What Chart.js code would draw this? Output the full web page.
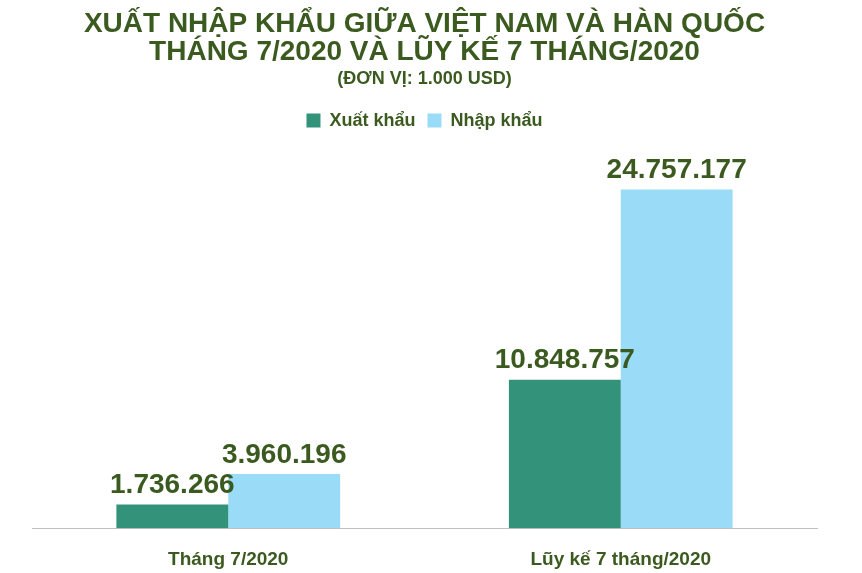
<!DOCTYPE html>
<html><head><meta charset="utf-8">
<script src="https://cdn.jsdelivr.net/npm/chart.js@4"></script>
<style>html,body{margin:0;background:#fff}#w{width:862px;height:573px}</style>
</head><body><div id="w"><canvas id="c"></canvas></div>
<script>
const categories = ["Tháng 7/2020", "Lũy kế 7 tháng/2020"];
const exportValues = [1736266, 10848757];
const importValues = [3960196, 24757177];
const seriesNames = ["Xuất khẩu", "Nhập khẩu"];
const green = "#3b5a1f";
const fmt = v => v.toString().replace(/\B(?=(\d{3})+(?!\d))/g, ".");
const labels = {
  id: "labels",
  afterDatasetsDraw(chart) {
    const ctx = chart.ctx;
    ctx.save();
    ctx.font = "bold 28px 'Liberation Sans', sans-serif";
    ctx.fillStyle = green;
    ctx.textAlign = "center";
    ctx.textBaseline = "bottom";
    chart.data.datasets.forEach((ds, i) => {
      chart.getDatasetMeta(i).data.forEach((b, j) => {
        ctx.fillText(fmt(ds.data[j]), b.x, b.y - 5);
      });
    });
    ctx.restore();
  }
};
new Chart(document.getElementById("c"), {
  type: "bar",
  data: {
    labels: categories,
    datasets: [
      { label: seriesNames[0], data: exportValues, backgroundColor: "#33937a" },
      { label: seriesNames[1], data: importValues, backgroundColor: "#9adcf8" }
    ]
  },
  options: {
    responsive: true, maintainAspectRatio: false, animation: false,
    layout: { padding: { left: 32, right: 45, top: 8, bottom: -10 } },
    datasets: { bar: { categoryPercentage: 0.57, barPercentage: 1 } },
    plugins: {
      title: {
        display: true, color: green,
        text: ["XUẤT NHẬP KHẨU GIỮA VIỆT NAM VÀ HÀN QUỐC", "THÁNG 7/2020 VÀ LŨY KẾ 7 THÁNG/2020"],
        font: { family: "'Liberation Sans', sans-serif", size: 28, weight: "bold", lineHeight: 1.0 },
        padding: { top: 2, bottom: 0 }
      },
      subtitle: {
        display: true, color: green, text: "(ĐƠN VỊ: 1.000 USD)",
        font: { family: "'Liberation Sans', sans-serif", size: 18, weight: "bold" },
        padding: { top: 2, bottom: 10 }
      },
      legend: {
        labels: { color: green, boxWidth: 14, boxHeight: 14, padding: 12,
          font: { family: "'Liberation Sans', sans-serif", size: 18, weight: "bold" } }
      },
      tooltip: { enabled: false }
    },
    scales: {
      x: {
        grid: { display: false },
        border: { color: "#bfbfbf" },
        ticks: { color: green, padding: 12, font: { family: "'Liberation Sans', sans-serif", size: 19, weight: "bold" } }
      },
      y: { display: false, min: 0, max: 28400000 }
    }
  },
  plugins: [labels]
});
</script></body></html>
